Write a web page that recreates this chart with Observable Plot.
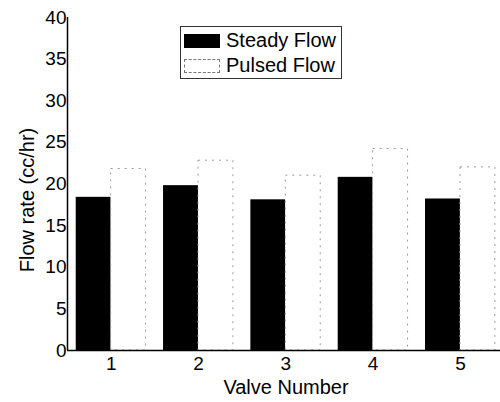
<!DOCTYPE html>
<html>
<head>
<meta charset="utf-8">
<script src="https://cdn.jsdelivr.net/npm/d3@7"></script>
<script src="https://cdn.jsdelivr.net/npm/@observablehq/plot@0.6"></script>
<style>
  html, body { margin: 0; padding: 0; background: #fff; }
  #wrap { position: relative; width: 500px; height: 402px; font-family: "Liberation Sans", Arial, sans-serif; overflow: hidden; }
  #legend { position: absolute; left: 180px; top: 26px; width: 160px; height: 51px; border: 1px solid #333; background: #fff; box-sizing: content-box; }
  .row { position: absolute; left: 3px; height: 25px; display: flex; align-items: center; font-size: 20px; color: #000; white-space: nowrap; }
  .sw { display: inline-block; width: 36px; height: 14px; margin-right: 6px; box-sizing: border-box; }
  .axlabel { position: absolute; font-size: 20px; line-height: 20px; color: #000; white-space: nowrap; }
</style>
</head>
<body>
<div id="wrap"></div>
<script>
const valves = [1, 2, 3, 4, 5];
const steady = [18.4, 19.8, 18.1, 20.8, 18.2];
const pulsed = [21.8, 22.8, 21.0, 24.2, 22.0];
const series = ["Steady Flow", "Pulsed Flow"];
const yTicks = [0, 5, 10, 15, 20, 25, 30, 35, 40];
const xLabel = "Valve Number";
const yLabel = "Flow rate (cc/hr)";

const data = valves.map((v, i) => ({valve: v, steady: steady[i], pulsed: pulsed[i]}));
const bw = 0.4;
const font = "Liberation Sans, Arial, sans-serif";

const chart = Plot.plot({
  width: 500,
  height: 402,
  marginLeft: 67,
  marginRight: 0,
  marginTop: 17,
  marginBottom: 52,
  style: {fontFamily: font, background: "white", color: "black"},
  x: {type: "linear", domain: [0.5, 5.5], range: [67, 503.6]},
  y: {domain: [0, 40], range: [350, 17]},
  marks: [
    Plot.rect(data, {x1: d => d.valve - bw, x2: d => d.valve, y1: 0, y2: "steady", fill: "black"}),
    Plot.rect(data, {x1: d => d.valve, x2: d => d.valve + bw, y1: 0, y2: "pulsed", fill: "white", stroke: "#9a9a9a", strokeWidth: 1, strokeDasharray: "2,5"}),
    Plot.ruleY([0], {stroke: "black", strokeWidth: 1.5}),
    Plot.ruleX([0.5], {stroke: "black", strokeWidth: 1.5}),
    Plot.axisX({ticks: valves, tickSize: 0, tickPadding: 6, fontSize: 19, label: null, tickFormat: d => String(d)}),
    Plot.axisY({ticks: yTicks, tickSize: 0, tickPadding: 1, fontSize: 19, label: null, tickFormat: d => String(d)})
  ]
});

const wrap = document.getElementById("wrap");
wrap.appendChild(chart);

// axis labels
const xl = document.createElement("div");
xl.className = "axlabel";
xl.textContent = xLabel;
xl.style.left = "286px";
xl.style.top = "377px";
xl.style.transform = "translateX(-50%)";
wrap.appendChild(xl);

const yl = document.createElement("div");
yl.className = "axlabel";
yl.textContent = yLabel;
yl.style.left = "27px";
yl.style.top = "200px";
yl.style.transform = "translate(-50%, -50%) rotate(-90deg)";
yl.style.transformOrigin = "center center";
wrap.appendChild(yl);
// position rotated label by its center
yl.style.left = "0px"; yl.style.top = "0px";
const w = yl.offsetWidth, h = yl.offsetHeight;
yl.style.transform = `translate(${27 - w / 2}px, ${200 - h / 2}px) rotate(-90deg)`;

const legend = document.createElement("div");
legend.id = "legend";
const swStyles = [
  {background: "black", border: "1px solid black"},
  {background: "white", border: "1px dashed #777"}
];
series.forEach((name, i) => {
  const row = document.createElement("div");
  row.className = "row";
  row.style.top = (1 + i * 25) + "px";
  const sw = document.createElement("span");
  sw.className = "sw";
  Object.assign(sw.style, swStyles[i]);
  row.appendChild(sw);
  row.appendChild(document.createTextNode(name));
  legend.appendChild(row);
});
wrap.appendChild(legend);
</script>
</body>
</html>
